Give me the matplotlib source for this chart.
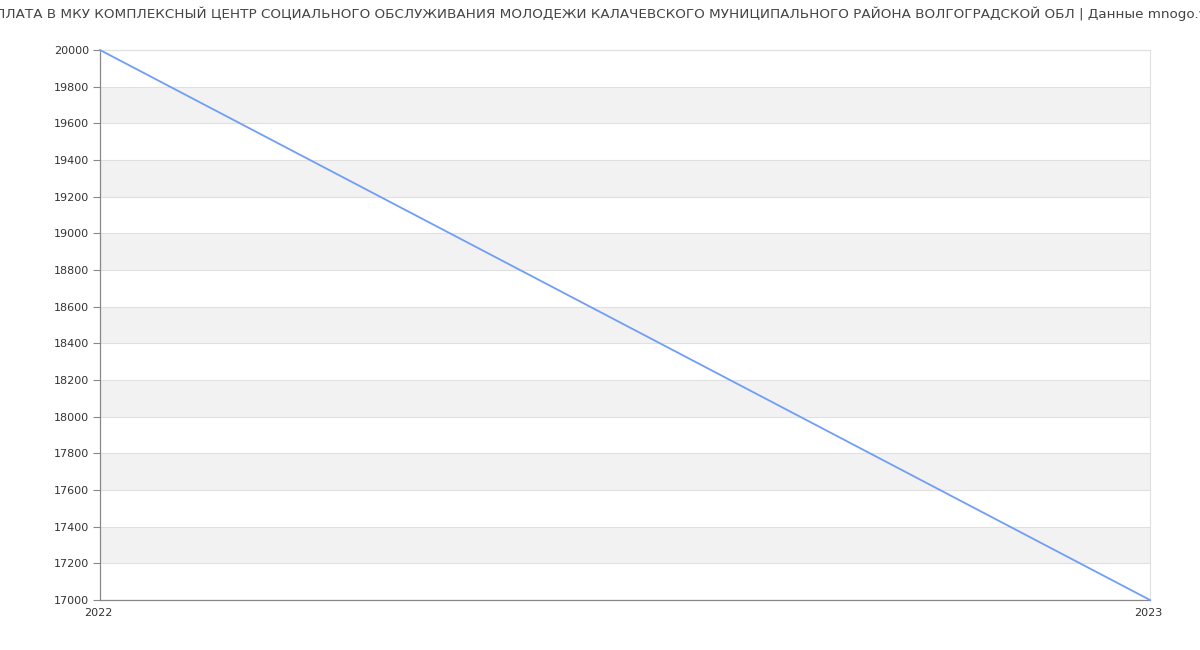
import matplotlib.pyplot as plt
import matplotlib.transforms as mtransforms

years = [2022, 2023]
salary = [20000, 17000]
y_ticks = list(range(17000, 20001, 200))

title = ("ЗАРПЛАТА В МКУ КОМПЛЕКСНЫЙ ЦЕНТР СОЦИАЛЬНОГО ОБСЛУЖИВАНИЯ МОЛОДЕЖИ "
         "КАЛАЧЕВСКОГО МУНИЦИПАЛЬНОГО РАЙОНА ВОЛГОГРАДСКОЙ ОБЛ | Данные mnogo.work")

fig = plt.figure(figsize=(12, 6.5), dpi=100)
ax = fig.add_axes([100 / 1200, 50 / 650, 1050 / 1200, 550 / 650])

# alternating bands
for i, lo in enumerate(y_ticks[:-1]):
    if i % 2 == 1:
        ax.axhspan(lo, lo + 200, color='#f2f2f2', zorder=0, lw=0)
for t in y_ticks:
    ax.axhline(t, color='#e0e0e0', lw=0.8, zorder=1)

ax.plot(years, salary, color='#6f9ef8', lw=1.3, zorder=3, clip_on=False)

ax.set_xlim(years[0], years[-1])
ax.set_ylim(17000, 20000)
ax.set_yticks(y_ticks)
ax.set_xticks(years)
ax.set_xticklabels([str(y) for y in years])

ax.tick_params(axis='y', length=5, color='#888888', labelsize=8, labelcolor='#333333', pad=3)
ax.tick_params(axis='x', length=0, labelsize=8, labelcolor='#333333', pad=6)

# x labels sit a touch left of their ticks
shift = mtransforms.ScaledTranslation(-2 / 100, 0, fig.dpi_scale_trans)
for lbl in ax.get_xticklabels():
    lbl.set_transform(lbl.get_transform() + shift)

for side in ['left', 'bottom']:
    ax.spines[side].set_color('#888888')
    ax.spines[side].set_linewidth(0.9)
for side in ['right', 'top']:
    ax.spines[side].set_color('#e0e0e0')
    ax.spines[side].set_linewidth(0.8)

fig.text(0.5, 1 - 14 / 650, title, ha='center', va='center', fontsize=9.7, color='#444444')

fig.savefig('out.png', dpi=100)
